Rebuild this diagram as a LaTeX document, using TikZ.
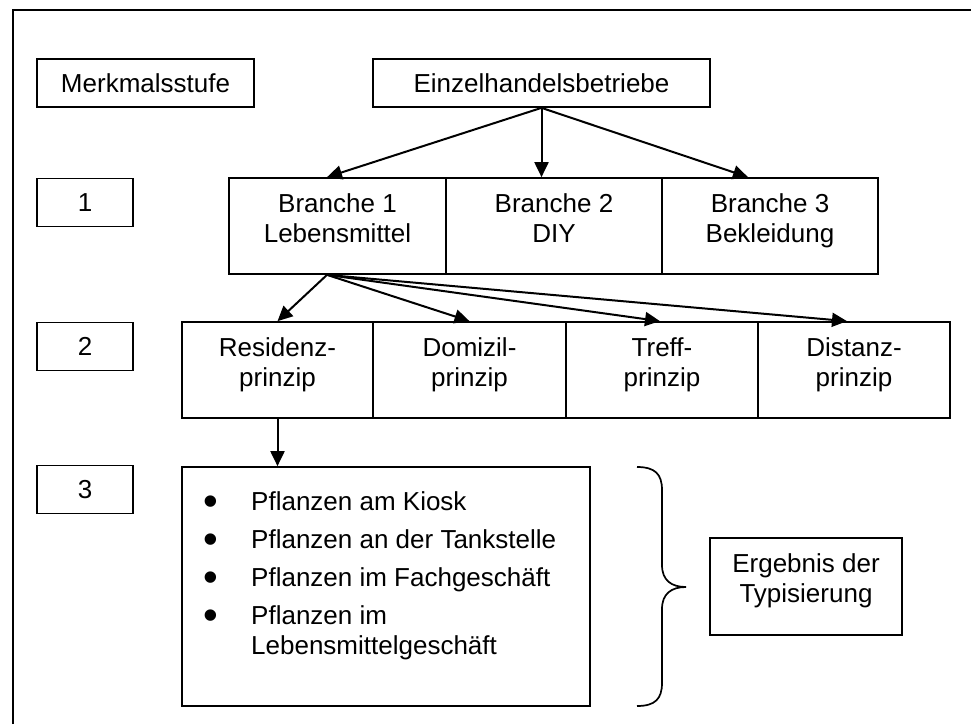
\documentclass[tikz,border=0pt]{standalone}
\usepackage{fontspec}
\setmainfont{Liberation Sans}
\usetikzlibrary{arrows.meta}
\newcommand{\bigbul}{\raisebox{-5pt}{\fontsize{42}{30}\selectfont •}}
\begin{document}
\begin{tikzpicture}[x=1pt,y=-1pt,
  box/.style={draw, line width=1.7pt, rectangle, inner sep=0pt, align=center,
    font=\fontsize{26}{30}\selectfont},
  twoline/.style={box, text depth=15pt},
  stepnum/.style={box, minimum width=96pt, minimum height=48pt},
  branchbox/.style={twoline, minimum width=216.5pt, minimum height=96pt},
  prinbox/.style={twoline, minimum width=192pt, minimum height=96pt},
  arr/.style={line width=2pt, -{Triangle[length=15pt,width=14pt]}},
  plain/.style={line width=1.7pt}]
\useasboundingbox (0,0) rectangle (971,724);
% outer frame (partly cut by the picture edge)
\draw[plain] (13,724) -- (13,10) -- (971,10);

% header row
\node[box, minimum width=217pt, minimum height=48pt] (merk) at (145.5,83) {Merkmalsstufe};
\node[box, minimum width=337pt, minimum height=48pt] (einz) at (541.5,83) {Einzelhandelsbetriebe};

% level numbers
\node[stepnum] (s1) at (85,202.5) {1};
\node[stepnum] (s2) at (85,346.5) {2};
\node[stepnum] (s3) at (85,489.5) {3};

% branches
\node[branchbox, minimum width=217pt] (b1) at (337.5,226) {Branche 1\\Lebensmittel};
\node[branchbox] (b2) at (554,226) {Branche 2\\DIY};
\node[branchbox] (b3) at (770,226) {Branche 3\\Bekleidung};

% principles
\node[prinbox, minimum width=191pt] (p1) at (277.5,370) {Residenz-\\prinzip};
\node[prinbox, minimum width=193pt] (p2) at (469.5,370) {Domizil-\\prinzip};
\node[prinbox] (p3) at (662,370) {Treff-\\prinzip};
\node[prinbox] (p4) at (854,370) {Distanz-\\prinzip};

% list box
\node[box, minimum width=408pt, minimum height=239pt] (list) at (386,586.5) {};
\node[anchor=base west, inner sep=0pt, font=\fontsize{26}{30}\selectfont] (items) at (203,510)
  {\begin{tabular}[t]{@{}p{48pt}@{}l@{}}
   \bigbul & Pflanzen am Kiosk\\[8pt]
   \bigbul & Pflanzen an der Tankstelle\\[8pt]
   \bigbul & Pflanzen im Fachgeschäft\\[8pt]
   \bigbul & Pflanzen im\\
     & Lebensmittelgeschäft
   \end{tabular}};

% result
\node[twoline, minimum width=192pt, minimum height=97pt, text depth=16pt] (erg) at (806,586.5) {Ergebnis der\\Typisierung};

% brace
\draw[plain] (637,467) .. controls (655,467) and (662,474) .. (662,490) -- (662,565)
  .. controls (662,580) and (671,587) .. (686,587)
  .. controls (671,587) and (662,594) .. (662,609) -- (662,683)
  .. controls (662,699) and (655,706) .. (637,706);

% arrows
\draw[arr] (einz.south) -- ([xshift=-10.5pt]b1.north);
\draw[arr] (einz.south) -- (einz.south |- b2.north);
\draw[arr] (einz.south) -- ([xshift=-22pt]b3.north);
\draw[arr] ([xshift=-10.5pt]b1.south) -- (p1.north);
\draw[arr] ([xshift=-10.5pt]b1.south) -- (p2.north);
\draw[arr] ([xshift=-10.5pt]b1.south) -- ([xshift=-2pt]p3.north);
\draw[arr] ([xshift=-10.5pt]b1.south) -- ([xshift=-7pt]p4.north);
\draw[arr] (p1.south) -- (p1.south |- list.north);
\end{tikzpicture}
\end{document}
